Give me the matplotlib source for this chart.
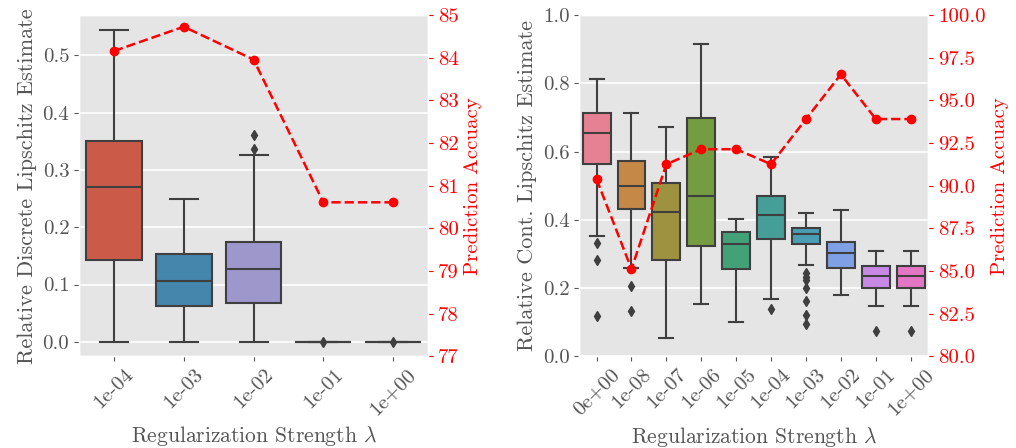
import matplotlib
matplotlib.use("Agg")
import matplotlib.pyplot as plt
from matplotlib.ticker import FormatStrFormatter, MultipleLocator
import seaborn as sns

# --- data ---
left_labels = ["1e-04", "1e-03", "1e-02", "1e-01", "1e+00"]
left_q1 = [0.143, 0.063, 0.068, 0.0, 0.0]
left_med = [0.271, 0.107, 0.127, 0.0, 0.0]
left_q3 = [0.350, 0.153, 0.175, 0.0, 0.0]
left_lo = [0.0, 0.0, 0.0, 0.0, 0.0]
left_hi = [0.544, 0.250, 0.326, 0.0, 0.0]
left_fliers = [[], [], [0.337, 0.361], [0.0], [0.0]]
left_acc = [84.16, 84.73, 83.96, 80.61, 80.61]

right_labels = ["0e+00", "1e-08", "1e-07", "1e-06", "1e-05",
                "1e-04", "1e-03", "1e-02", "1e-01", "1e+00"]
right_q1 = [0.563, 0.431, 0.281, 0.322, 0.256, 0.345, 0.330, 0.259, 0.200, 0.200]
right_med = [0.654, 0.500, 0.424, 0.470, 0.330, 0.415, 0.359, 0.302, 0.234, 0.234]
right_q3 = [0.712, 0.571, 0.509, 0.698, 0.365, 0.470, 0.377, 0.334, 0.265, 0.265]
right_lo = [0.353, 0.259, 0.053, 0.154, 0.100, 0.169, 0.266, 0.178, 0.148, 0.148]
right_hi = [0.813, 0.712, 0.673, 0.915, 0.402, 0.583, 0.420, 0.429, 0.307, 0.307]
right_fliers = [[0.332, 0.281, 0.119], [0.207, 0.132], [], [], [], [0.139],
                [0.245, 0.232, 0.222, 0.200, 0.161, 0.122, 0.093], [], [0.073], [0.073]]
right_acc = [90.38, 85.11, 91.26, 92.14, 92.14, 91.26, 93.91, 96.53, 93.91, 93.91]

plt.style.use("ggplot")
plt.rcParams["font.family"] = ["cmr10", "DejaVu Serif"]
plt.rcParams["mathtext.fontset"] = "cm"
plt.rcParams["axes.formatter.use_mathtext"] = True

GRAY = "#3f3f3f"
FS = 15


def make_stats(q1, med, q3, lo, hi, fliers):
    return [dict(q1=a, med=b, q3=c, whislo=d, whishi=e, fliers=f)
            for a, b, c, d, e, f in zip(q1, med, q3, lo, hi, fliers)]


def draw_panel(ax, stats, colors, labels, acc, ylabel):
    n = len(stats)
    lw = 1.5
    bp = ax.bxp(stats, positions=range(n), widths=0.8, capwidths=0.4,
                patch_artist=True, showfliers=True,
                boxprops=dict(edgecolor=GRAY, linewidth=lw),
                medianprops=dict(color=GRAY, linewidth=lw),
                whiskerprops=dict(color=GRAY, linewidth=lw),
                capprops=dict(color=GRAY, linewidth=lw),
                flierprops=dict(marker="d", markerfacecolor=GRAY,
                                markeredgecolor=GRAY, markersize=5))
    for patch, c in zip(bp["boxes"], colors):
        patch.set_facecolor(c)
    ax.set_xlim(-0.5, n - 0.5)
    ax.set_xticks(range(n))
    ax.set_xticklabels(labels, rotation=45, fontsize=FS)
    ax.grid(False, axis="x")
    ax.grid(True, axis="y", color="white", linewidth=1.2)
    ax.tick_params(axis="y", labelsize=FS)
    ax.set_ylabel(ylabel, fontsize=16)
    ax.set_xlabel(r"Regularization Strength $\lambda$", fontsize=15.5)
    ax.yaxis.set_major_formatter(FormatStrFormatter("%.1f"))

    tw = ax.twinx()
    tw.grid(False)
    tw.plot(range(n), acc, "--o", color="red", linewidth=1.8, markersize=6)
    tw.tick_params(axis="y", colors="red", labelsize=FS)
    tw.set_ylabel("Prediction Accuacy", color="red", fontsize=FS)
    return tw


fig = plt.figure(figsize=(10.16, 4.48), dpi=100)
ax1 = fig.add_axes([0.0778, 0.205, 0.3435, 0.761])
ax2 = fig.add_axes([0.570, 0.205, 0.3435, 0.761])

base = plt.rcParams["axes.prop_cycle"].by_key()["color"][:3]
left_colors = [sns.desaturate(c, 0.75) for c in base] + ["#777777", "#777777"]
right_colors = [sns.desaturate(c, 0.75) for c in sns.husl_palette(10)]

tw1 = draw_panel(ax1, make_stats(left_q1, left_med, left_q3, left_lo, left_hi, left_fliers),
                 left_colors, left_labels, left_acc, "Relative Discrete Lipschitz Estimate")
ax1.set_ylim(-0.025, 0.57)
ax1.yaxis.set_major_locator(MultipleLocator(0.1))
tw1.set_ylim(77, 85)
tw1.yaxis.set_major_locator(MultipleLocator(1))
tw1.yaxis.set_major_formatter(FormatStrFormatter("%d"))

tw2 = draw_panel(ax2, make_stats(right_q1, right_med, right_q3, right_lo, right_hi, right_fliers),
                 right_colors, right_labels, right_acc, "Relative Cont. Lipschitz Estimate")
ax2.set_ylim(0, 1.0)
ax2.yaxis.set_major_locator(MultipleLocator(0.2))
tw2.set_ylim(80, 100)
tw2.yaxis.set_major_locator(MultipleLocator(2.5))
tw2.yaxis.set_major_formatter(FormatStrFormatter("%.1f"))

fig.savefig("out.png", dpi=100)
